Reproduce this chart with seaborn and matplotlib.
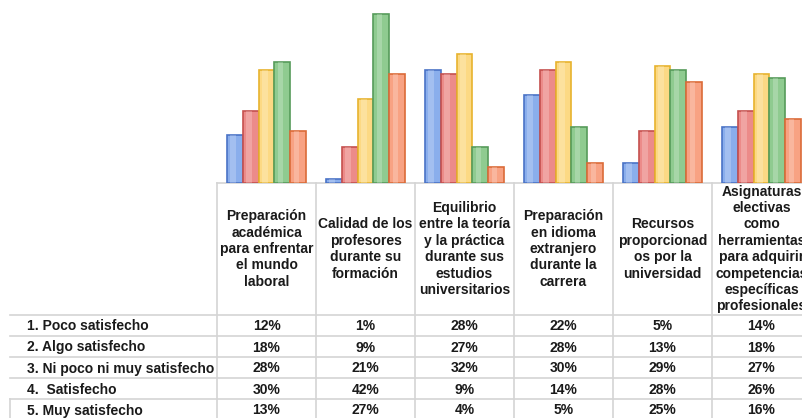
import matplotlib
matplotlib.use("Agg")
import matplotlib.pyplot as plt
import seaborn as sns
import pandas as pd

categories = [
    "Preparación\nacadémica\npara enfrentar\nel mundo\nlaboral",
    "Calidad de los\nprofesores\ndurante su\nformación",
    "Equilibrio\nentre la teoría\ny la práctica\ndurante sus\nestudios\nuniversitarios",
    "Preparación\nen idioma\nextranjero\ndurante la\ncarrera",
    "Recursos\nproporcionad\nos por la\nuniversidad",
    "Asignaturas\nelectivas\ncomo\nherramientas\npara adquirir\ncompetencias\nespecíficas\nprofesionales",
]
series = [
    "1. Poco satisfecho",
    "2. Algo satisfecho",
    "3. Ni poco ni muy satisfecho",
    "4.  Satisfecho",
    "5. Muy satisfecho",
]
poco = [12, 1, 28, 22, 5, 14]
algo = [18, 9, 27, 28, 13, 18]
ni_poco = [28, 21, 32, 30, 29, 27]
satisfecho = [30, 42, 9, 14, 28, 26]
muy = [13, 27, 4, 5, 25, 16]
values = [poco, algo, ni_poco, satisfecho, muy]

fills = ["#8AAEEC", "#EC8B89", "#FCD984", "#8FCB90", "#F8A283"]
edges = ["#4A73C6", "#C5504E", "#E7B32E", "#569B5A", "#DB6B38"]

rows = []
for s, vals in zip(series, values):
    for i, v in enumerate(vals):
        rows.append({"cat": str(i), "series": s, "val": v})
df = pd.DataFrame(rows)

W, H = 802, 418
fig = plt.figure(figsize=(W / 100, H / 100), dpi=100)
plt.rcParams["font.family"] = ["Liberation Sans", "DejaVu Sans"]

col_left = 217
col_w = 99
base_y = 183
ncol = len(categories)

ax = fig.add_axes([col_left / W, (H - base_y) / H, col_w * ncol / W, base_y / H])
sns.barplot(data=df, x="cat", y="val", hue="series", palette=fills,
            width=0.8, ax=ax, legend=False, saturation=1)
# style bars
for si, cont in enumerate(ax.containers):
    for p in cont.patches:
        p.set_edgecolor(edges[si])
        p.set_linewidth(1.2)
        x0, w, h = p.get_x(), p.get_width(), p.get_height()
        hl = plt.Rectangle((x0 + w * 0.22, 0), w * 0.35, h,
                           facecolor="white", alpha=0.22, linewidth=0, zorder=p.get_zorder() + 0.1)
        ax.add_patch(hl)
ax.set_xlim(-0.5, ncol - 0.5)
ax.set_ylim(0, 45.5)
ax.axis("off")

# data table
tax = fig.add_axes([0, 0, 1, 1], zorder=-1)
tax.set_xlim(0, W)
tax.set_ylim(H, 0)
tax.axis("off")
grid = "#D4D4D4"
header_bottom = 315
row_h = 21
fs = 10

# vertical lines
for i in range(ncol + 1):
    x = col_left + i * col_w
    tax.plot([x, x], [base_y, H], color=grid, lw=1.2)
tax.plot([col_left, W], [base_y, base_y], color=grid, lw=1.2)
for r in range(len(series) + 1):
    y = header_bottom + r * row_h
    tax.plot([10, W], [y, y], color=grid, lw=1.2)
tax.plot([10, 10], [header_bottom + 4 * row_h, H], color=grid, lw=1.2)

for i, c in enumerate(categories):
    tax.text(col_left + (i + 0.5) * col_w, (base_y + header_bottom) / 2, c,
             ha="center", va="center", fontsize=fs, fontweight="bold",
             color="#1A1A1A", linespacing=1.22)
for r, (s, vals) in enumerate(zip(series, values)):
    yc = header_bottom + (r + 0.5) * row_h + 1
    tax.text(27, yc, s, ha="left", va="center", fontsize=fs,
             fontweight="bold", color="#1A1A1A")
    for i, v in enumerate(vals):
        tax.text(col_left + (i + 0.5) * col_w, yc, f"{v}%", ha="center",
                 va="center", fontsize=fs, fontweight="bold", color="#1A1A1A")

fig.savefig("out.png", dpi=100, facecolor="white")
